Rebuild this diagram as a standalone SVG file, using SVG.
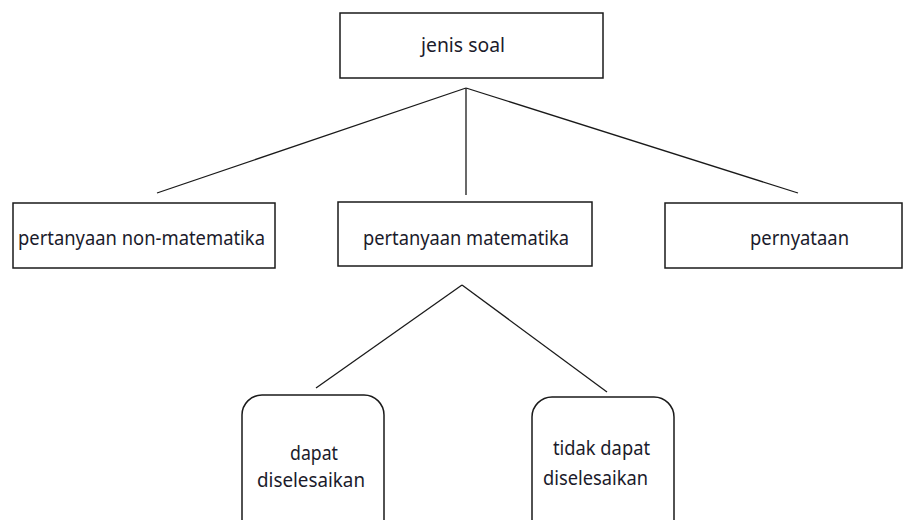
<svg xmlns="http://www.w3.org/2000/svg" width="915" height="520" viewBox="0 0 915 520">
<style>
.box{fill:#fff;stroke:#1a1a1a;stroke-width:1.5}
.t{font-family:"Noto Sans","Open Sans",sans-serif;font-size:20px;fill:#1b1b2b;text-anchor:middle;dominant-baseline:central}
.ln{stroke:#1a1a1a;stroke-width:1.3;fill:none}
</style>
<rect width="915" height="520" fill="#fff"/>
<g id="connectors">
<line class="ln" x1="466" y1="88" x2="157" y2="193"/>
<line class="ln" x1="466" y1="88" x2="466" y2="195"/>
<line class="ln" x1="466" y1="88" x2="798" y2="193"/>
<line class="ln" x1="462" y1="285" x2="316" y2="388"/>
<line class="ln" x1="462" y1="285" x2="607" y2="392"/>
</g>
<g id="jenis-soal">
<rect class="box" x="340" y="13" width="263" height="65"/>
<text class="t" x="463" y="44" textLength="84" lengthAdjust="spacingAndGlyphs">jenis soal</text>
</g>
<g id="non-matematika">
<rect class="box" x="13" y="203" width="262" height="65"/>
<text class="t" x="141.5" y="237" textLength="247" lengthAdjust="spacingAndGlyphs">pertanyaan non-matematika</text>
</g>
<g id="matematika">
<rect class="box" x="338" y="202" width="254" height="64"/>
<text class="t" x="466" y="237" textLength="206" lengthAdjust="spacingAndGlyphs">pertanyaan matematika</text>
</g>
<g id="pernyataan">
<rect class="box" x="665" y="203" width="237" height="65"/>
<text class="t" x="799.5" y="237" textLength="99" lengthAdjust="spacingAndGlyphs">pernyataan</text>
</g>
<g id="dapat">
<rect class="box" x="242" y="395" width="142" height="145" rx="20"/>
<text class="t" x="314" y="452" textLength="48" lengthAdjust="spacingAndGlyphs">dapat</text>
<text class="t" x="311" y="479" textLength="108" lengthAdjust="spacingAndGlyphs">diselesaikan</text>
</g>
<g id="tidak-dapat">
<rect class="box" x="532" y="397" width="142" height="143" rx="20"/>
<text class="t" x="601.5" y="447" textLength="97" lengthAdjust="spacingAndGlyphs">tidak dapat</text>
<text class="t" x="595.5" y="477" textLength="105" lengthAdjust="spacingAndGlyphs">diselesaikan</text>
</g>
</svg>
